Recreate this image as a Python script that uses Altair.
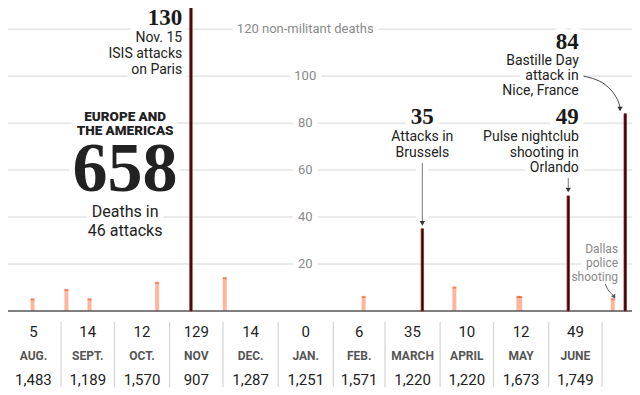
import altair as alt
import pandas as pd

START = pd.Timestamp("2015-08-01")


def day(s):
    return (pd.Timestamp(s) - START).days


# ---------------- data ----------------
bar_dates = ["2015-08-16", "2015-09-04", "2015-09-17", "2015-10-25", "2015-11-13",
             "2015-12-02", "2016-02-18", "2016-03-22", "2016-04-09", "2016-05-15",
             "2016-05-16", "2016-06-12", "2016-07-07", "2016-07-14"]
bar_deaths = [5, 9, 5, 12, 130, 14, 6, 35, 10, 6, 6, 49, 5, 84]
bar_major = [False, False, False, False, True, False, False, True, False, False,
             False, True, False, True]

month_starts = ["2015-08-01", "2015-09-01", "2015-10-01", "2015-11-01", "2015-12-01",
                "2016-01-01", "2016-02-01", "2016-03-01", "2016-04-01", "2016-05-01",
                "2016-06-01", "2016-07-01"]
month_names = ["AUG.", "SEPT.", "OCT.", "NOV", "DEC.", "JAN.", "FEB.", "MARCH",
               "APRIL", "MAY", "JUNE"]
month_deaths = ["5", "14", "12", "129", "14", "0", "6", "35", "10", "12", "49"]
month_other = ["1,483", "1,189", "1,570", "907", "1,287", "1,251", "1,571", "1,220",
               "1,220", "1,673", "1,749"]

grid_values = [20, 40, 60, 80, 100, 120]
grid_labels = ["20", "40", "60", "80", "100", "120 non-militant deaths"]
label_day = 168.2

# annotation numbers (serif)
num_text = ["130", "35", "49", "84"]
num_day = [99.1, 234, 321.9, 321.9]
num_y = [124.8, 82.8, 82.8, 114.7]
num_align = ["right", "center", "right", "right"]

# annotation captions (sans)
cap_text = ["Nov. 15", "ISIS attacks", "on Paris",
            "Attacks in", "Brussels",
            "Pulse nightclub", "shooting in", "Orlando",
            "Bastille Day", "attack in", "Nice, France"]
cap_day = [99.1, 99.1, 99.1, 234, 234, 321.9, 321.9, 321.9, 321.9, 321.9, 321.9]
cap_y = [116.2, 109.4, 102.6, 74, 67.2, 74, 67.2, 60.9, 106.4, 100, 93.6]
cap_align = ["right", "right", "right", "center", "center",
             "right", "right", "right", "right", "right", "right"]

dallas_text = ["Dallas", "police", "shooting"]
dallas_day = [344, 344, 344]
dallas_y = [26.4, 20.4, 14.5]

region_text = ["EUROPE AND", "THE AMERICAS"]
region_y = [82.4, 76.6]
big_text = ["658"]
big_y = [60]
sub_text = ["Deaths in", "46 attacks"]
sub_y = [42.1, 34]
block_day = 67

# arrows
nice_curve_day = [324.6, 334, 340.6, 344, 345.1]
nice_curve_y = [100, 98.3, 94, 89.8, 86.8]
dallas_curve_day = [336.8, 337.9, 339.6, 341.2]
dallas_curve_y = [11.5, 9.4, 7.7, 6.8]
straight_day = [234, 316]
straight_y1 = [63, 56.6]
straight_y2 = [38, 52.5]
head_day = [234, 316, 345.1]
head_y = [37.3, 51.5, 86.0]

# ---------------- scales ----------------
W, H = 624, 379
PLOT_H = 303  # pixel height of the bar area (zero line)
xs = alt.Scale(domain=[4, 349], nice=False, zero=False)
ys = alt.Scale(domain=[0, 129], range=[PLOT_H, 0], nice=False)
X = lambda f="day": alt.X(f"{f}:Q", scale=xs, axis=None)
Y = lambda f="y": alt.Y(f"{f}:Q", scale=ys, axis=None)

SANS = "Roboto"
SERIF = "Liberation Serif"

bars = pd.DataFrame({"day": [day(d) for d in bar_dates], "deaths": bar_deaths,
                     "major": bar_major})
minor_df = bars[~bars.major]
major_df = bars[bars.major]


def texts(df, halo=True, **kw):
    base = alt.Chart(df).encode(x=X(), y=Y(), text="t:N")
    out = []
    if halo:
        hk = dict(kw)
        hk.pop("color", None)
        out.append(base.mark_text(color="white", stroke="white", strokeWidth=12,
                                  strokeJoin="round", **hk))
    out.append(base.mark_text(**kw))
    return out


def tdf(t, d, y):
    return pd.DataFrame({"t": t, "day": d, "y": y})


grid = alt.Chart(pd.DataFrame({"v": grid_values})).mark_rule(
    color="#d6d6d6", strokeWidth=1).encode(y=Y("v"))
baseline = alt.Chart(pd.DataFrame({"v": [0]})).mark_rule(
    color="#555555", strokeWidth=1.5).encode(y=Y("v"))

straight_df = pd.DataFrame({"day": straight_day, "y": straight_y1, "y2": straight_y2})
brussels_halo = alt.Chart(straight_df.iloc[[0]]).mark_rule(
    color="white", strokeWidth=12).encode(x=X(), y=Y(), y2="y2:Q")

halo_layers = []
text_layers = []
groups = [
    (tdf(grid_labels, [label_day] * 6, grid_values),
     dict(font=SANS, fontSize=13, color="#8a8a8a", align="center", baseline="middle")),
    (tdf(region_text, [block_day] * 2, region_y),
     dict(font=SANS, fontSize=13.5, fontWeight=900, color="#222222", align="center",
          baseline="middle")),
    (tdf(big_text, [block_day], big_y),
     dict(font=SERIF, fontSize=70, fontWeight="bold", color="#222222", align="center",
          baseline="middle")),
    (tdf(sub_text, [block_day] * 2, sub_y),
     dict(font=SANS, fontSize=16, color="#222222", align="center", baseline="middle")),
    (tdf(dallas_text, dallas_day, dallas_y),
     dict(font=SANS, fontSize=12, color="#8a8a8a", align="right", baseline="middle")),
]
for df, kw in groups:
    h, t = texts(df, **kw)
    halo_layers.append(h)
    text_layers.append(t)

for t_, d_, y_, a_ in zip(num_text, num_day, num_y, num_align):
    h, t = texts(tdf([t_], [d_], [y_]), font=SERIF, fontSize=23, fontWeight="bold",
                 color="#1a1a1a", align=a_, baseline="middle")
    halo_layers.append(h)
    text_layers.append(t)
for t_, d_, y_, a_ in zip(cap_text, cap_day, cap_y, cap_align):
    h, t = texts(tdf([t_], [d_], [y_]), font=SANS, fontSize=14, color="#222222",
                 align=a_, baseline="middle")
    halo_layers.append(h)
    text_layers.append(t)

minor_bars = alt.Chart(minor_df).mark_bar(width=4, color="#fdb59b").encode(
    x=X(), y=Y("deaths"), y2=alt.Y2(datum=0))
minor_caps = alt.Chart(minor_df).mark_tick(
    orient="horizontal", color="#f0622d", thickness=2, size=4).encode(x=X(), y=Y("deaths"))
major_bars = alt.Chart(major_df).mark_bar(
    width=2.4, color="#2a0707", stroke="#9c2226", strokeWidth=0.8).encode(
    x=X(), y=Y("deaths"), y2=alt.Y2(datum=0))

straight = alt.Chart(straight_df).mark_rule(color="#777777", strokeWidth=1).encode(
    x=X(), y=Y(), y2="y2:Q")
nice_curve = alt.Chart(pd.DataFrame({"day": nice_curve_day, "y": nice_curve_y,
                                     "o": range(5)})).mark_line(
    interpolate="basis", color="#444444", strokeWidth=1).encode(x=X(), y=Y(), order="o:Q")
dallas_curve = alt.Chart(pd.DataFrame({"day": dallas_curve_day, "y": dallas_curve_y,
                                       "o": range(4)})).mark_line(
    interpolate="basis", color="#555555", strokeWidth=1).encode(x=X(), y=Y(), order="o:Q")
heads = alt.Chart(pd.DataFrame({"day": head_day, "y": head_y})).mark_point(
    shape="triangle-down", filled=True, size=28, color="#333333", opacity=1).encode(
    x=X(), y=Y())
dallas_head = alt.Chart(pd.DataFrame({"day": [341.8], "y": [6.0]})).mark_point(
    shape="triangle-down", filled=True, size=24, color="#555555", opacity=1,
    angle=330).encode(x=X(), y=Y())

# ---------------- table (below the zero line) ----------------
mstart_days = [day(s) for s in month_starts]
centers = [(mstart_days[i] + mstart_days[i + 1]) / 2 for i in range(len(month_names))]
table_df = pd.DataFrame({"day": centers, "deaths": month_deaths, "name": month_names,
                         "other": month_other})
sep_df = pd.DataFrame({"day": mstart_days[1:]})

seps = alt.Chart(sep_df).mark_rule(color="#d5d5d5", strokeWidth=1.2).encode(
    x=X(), y=alt.value(PLOT_H + 11), y2=alt.value(PLOT_H + 80))
row1 = alt.Chart(table_df).mark_text(font=SANS, fontSize=15, color="#222222").encode(
    x=X(), y=alt.value(PLOT_H + 21), text="deaths:N")
row2 = alt.Chart(table_df).mark_text(font=SANS, fontSize=12, fontWeight="bold",
                                     color="#555555").encode(
    x=X(), y=alt.value(PLOT_H + 45), text="name:N")
row3 = alt.Chart(table_df).mark_text(font=SANS, fontSize=15, color="#222222").encode(
    x=X(), y=alt.value(PLOT_H + 69), text="other:N")

chart = alt.layer(
    grid, *halo_layers, brussels_halo, minor_bars, minor_caps, baseline, major_bars,
    straight, nice_curve, dallas_curve, heads, dallas_head, *text_layers,
    seps, row1, row2, row3
).properties(
    width=W, height=H, padding=0, autosize=alt.AutoSizeParams(type="none")
).configure_view(stroke="transparent")

chart.save("out.html", embed_options={"renderer": "svg", "actions": False})
